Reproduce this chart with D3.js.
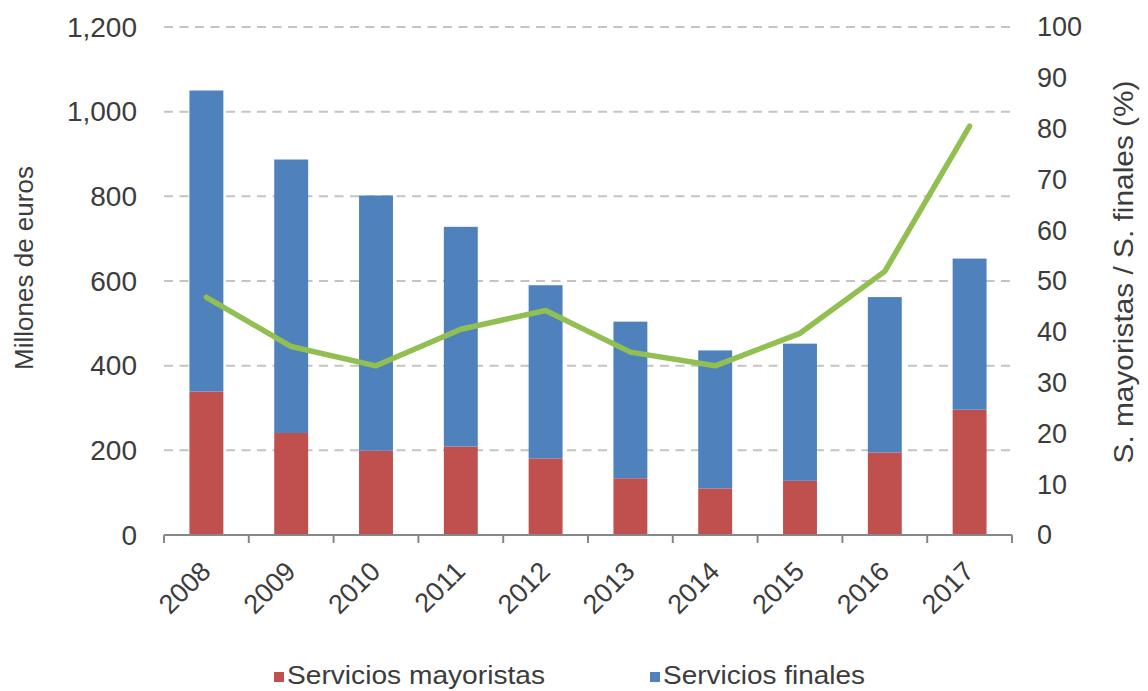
<!DOCTYPE html>
<html>
<head>
<meta charset="utf-8">
<script src="https://cdn.jsdelivr.net/npm/d3@7"></script>
<style>
  html, body { margin: 0; padding: 0; background: #ffffff; }
  svg { display: block; font-family: "Liberation Sans", Arial, sans-serif; }
</style>
</head>
<body>
<svg id="chart" width="1148" height="691"></svg>
<script>
// Years on the category axis
const years = ["2008", "2009", "2010", "2011", "2012", "2013", "2014", "2015", "2016", "2017"];
// Millones de euros, stacked: mayoristas at the bottom, finales on top
const mayoristas = [339, 241, 199, 209, 181, 134, 110, 128, 195, 296];
const finales = [711, 646, 603, 519, 409, 370, 326, 324, 367, 357];
// S. mayoristas / S. finales (%)
const ratio = [46.8, 37.1, 33.3, 40.5, 44.2, 36.0, 33.3, 39.7, 51.9, 80.5];
// Axis ticks
const leftTicks = [0, 200, 400, 600, 800, 1000, 1200];
const rightTicks = [0, 10, 20, 30, 40, 50, 60, 70, 80, 90, 100];
const seriesNames = ["Servicios mayoristas", "Servicios finales"];

const colors = { mayoristas: "#c0504d", finales: "#4f81bd", ratio: "#92bf52" };
const textColor = "#3c3c3c";

const svg = d3.select("#chart");

const x = d3.scaleBand().domain(years).range([164, 1012]).paddingInner(0.6).paddingOuter(0.3);
const yL = d3.scaleLinear().domain([0, 1200]).range([535, 27]);
const yR = d3.scaleLinear().domain([0, 100]).range([535, 27]);

// Dashed horizontal gridlines
svg.append("g")
  .selectAll("line")
  .data(leftTicks.filter(d => d > 0))
  .join("line")
  .attr("x1", 164).attr("x2", 1012)
  .attr("y1", d => yL(d)).attr("y2", d => yL(d))
  .attr("stroke", "#c4c4c4")
  .attr("stroke-width", 2)
  .attr("stroke-dasharray", "9,6.5");

// Stacked bars
const rows = years.map((y, i) => ({ year: y, mayoristas: mayoristas[i], finales: finales[i] }));
const stack = d3.stack().keys(["mayoristas", "finales"])(rows);

svg.append("g")
  .selectAll("g")
  .data(stack)
  .join("g")
  .attr("fill", d => colors[d.key])
  .selectAll("rect")
  .data(d => d)
  .join("rect")
  .attr("x", d => x(d.data.year))
  .attr("width", x.bandwidth())
  .attr("y", d => yL(d[1]))
  .attr("height", d => yL(d[0]) - yL(d[1]));

// Category axis with downward ticks at band boundaries
const xAxisG = svg.append("g").attr("transform", "translate(0,535)");
xAxisG.append("line")
  .attr("x1", 164).attr("x2", 1012)
  .attr("y1", 0).attr("y2", 0)
  .attr("stroke", "#878787").attr("stroke-width", 2);
const boundaries = years.map(y => x(y) - x.step() * x.paddingInner() / 2);
boundaries.push(1012);
xAxisG.selectAll("line.tick")
  .data(boundaries)
  .join("line")
  .attr("class", "tick")
  .attr("x1", d => d).attr("x2", d => d)
  .attr("y1", 0).attr("y2", 8)
  .attr("stroke", "#878787").attr("stroke-width", 2);

// Rotated year labels
svg.append("g")
  .selectAll("text")
  .data(years)
  .join("text")
  .attr("transform", d => `translate(${x(d) + x.bandwidth() / 2 + 6},573) rotate(-45)`)
  .attr("text-anchor", "end")
  .attr("font-size", 27)
  .attr("fill", textColor)
  .text(d => d);

// Left axis labels
const fmt = d3.format(",");
svg.append("g")
  .selectAll("text")
  .data(leftTicks)
  .join("text")
  .attr("x", 137)
  .attr("y", d => yL(d))
  .attr("dy", "0.35em")
  .attr("text-anchor", "end")
  .attr("font-size", 28)
  .attr("fill", textColor)
  .text(d => fmt(d));

// Right axis labels
svg.append("g")
  .selectAll("text")
  .data(rightTicks)
  .join("text")
  .attr("x", 1037)
  .attr("y", d => yR(d))
  .attr("dy", "0.35em")
  .attr("text-anchor", "start")
  .attr("font-size", 27)
  .attr("fill", textColor)
  .text(d => d);

// Axis titles
svg.append("text")
  .attr("transform", "translate(33,268) rotate(-90)")
  .attr("text-anchor", "middle")
  .attr("font-size", 26)
  .attr("fill", textColor)
  .text("Millones de euros");

svg.append("text")
  .attr("transform", "translate(1133,272) rotate(-90)")
  .attr("text-anchor", "middle")
  .attr("font-size", 28)
  .attr("textLength", 383)
  .attr("lengthAdjust", "spacingAndGlyphs")
  .attr("fill", textColor)
  .text("S. mayoristas / S. finales (%)");

// Ratio line on the right axis
const line = d3.line()
  .x((d, i) => x(years[i]) + x.bandwidth() / 2)
  .y(d => yR(d));
svg.append("path")
  .datum(ratio)
  .attr("d", line)
  .attr("fill", "none")
  .attr("stroke", colors.ratio)
  .attr("stroke-width", 5.5)
  .attr("stroke-linejoin", "round")
  .attr("stroke-linecap", "round");

// Legend
const legend = [
  { name: seriesNames[0], color: colors.mayoristas, x: 274, len: 258 },
  { name: seriesNames[1], color: colors.finales, x: 650, len: 202 }
];
const lg = svg.append("g").selectAll("g").data(legend).join("g")
  .attr("transform", d => `translate(${d.x},0)`);
lg.append("rect")
  .attr("x", 0).attr("y", 672)
  .attr("width", 10).attr("height", 10)
  .attr("fill", d => d.color);
lg.append("text")
  .attr("x", 13).attr("y", 684)
  .attr("font-size", 25)
  .attr("textLength", d => d.len)
  .attr("lengthAdjust", "spacingAndGlyphs")
  .attr("fill", textColor)
  .text(d => d.name);
</script>
</body>
</html>
